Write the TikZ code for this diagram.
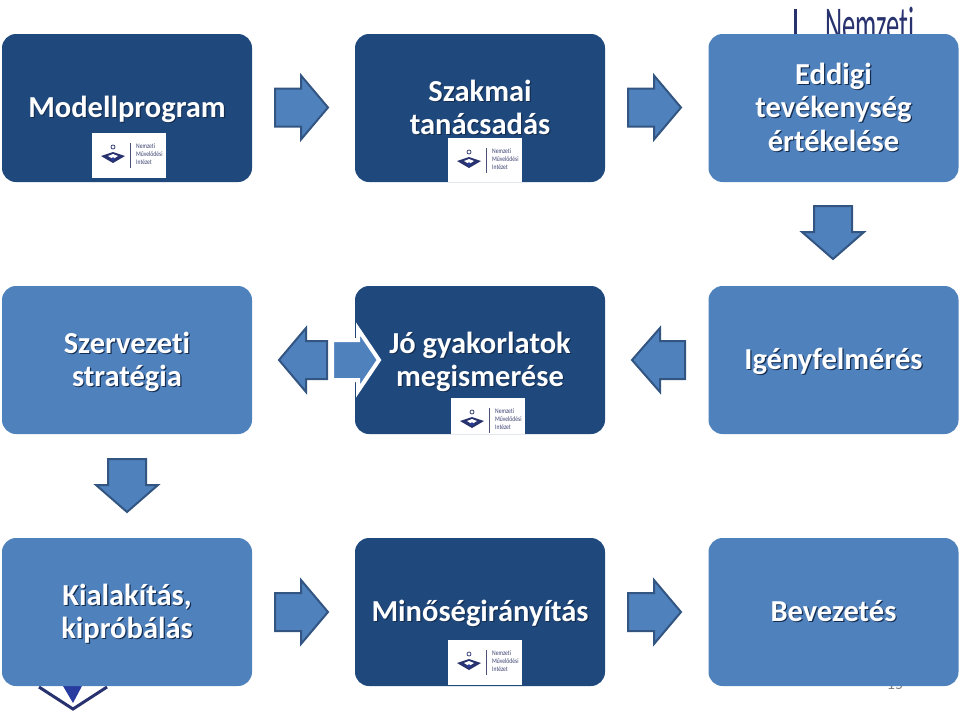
\documentclass[tikz,border=0pt]{standalone}
\usepackage{fontspec}
\setmainfont[Ligatures=NoCommon]{Carlito}
\usepackage{xcolor}
\definecolor{modelblue}{RGB}{31,73,125}
\definecolor{stepblue}{RGB}{79,129,189}
\definecolor{arrowline}{RGB}{50,85,130}
\definecolor{logoblue}{RGB}{40,50,110}
\definecolor{heartblue}{RGB}{40,60,160}
\definecolor{textshade}{RGB}{20,45,80}
\newcommand{\shadetext}[1]{\leavevmode\rule[-7pt]{0pt}{33.5pt}\rlap{\kern1.2pt\raisebox{-1.2pt}{\textcolor{textshade}{#1}}}#1}
\tikzset{
    modelbox/.style = {draw=none, fill=modelblue, rounded corners=14pt, minimum width=250pt, minimum height=148pt, inner sep=0pt, text=white, align=center, font=\bfseries\fontsize{30.5}{33.5}\selectfont},
    stepbox/.style = {modelbox, fill=stepblue},
    logobox/.style = {fill=white, minimum width=74pt, inner sep=0pt, anchor=north},
    logotext/.style = {text=logoblue!80!gray, align=left, inner sep=0pt, font=\fontsize{7}{8.2}\selectfont},
    bluearrow/.style = {draw=arrowline, line width=2pt, fill=stepblue, miter limit=10},
    logo/.pic = {
        \fill[logoblue] (-28,1) -- (-16,-3) -- (-4,1) -- (-16,8) -- cycle;
        \fill[white] (-21,1) -- (-16,-1) -- (-11,1) -- (-16,4) -- cycle;
        \fill[heartblue] (-16,4) circle (1.8);
        \draw[logoblue, line width=0.7pt] (-16,-8) circle (2);
        \draw[logoblue!60!gray, line width=0.6pt] (1,-12) -- (1,13);
    }
}
\begin{document}
\begin{tikzpicture}[x=1pt, y=-1pt]
    \useasboundingbox (0,0) rectangle (960,720);
    % logos behind the boxes
    \node[text=logoblue, font=\fontsize{50}{50}\selectfont, anchor=base west, inner sep=0pt] (topname) at (825,41) {\scalebox{.53}[1]{Nemzeti}};
    \node[fill=logoblue, minimum width=3pt, minimum height=27pt, inner sep=0pt, anchor=north] (topbar) at (795,9) {};
    \draw[logoblue, line width=3pt] (39,687) -- (73,709) -- (107,687);
    \fill[heartblue] (63,686) -- (73,703) -- (82,686) -- cycle;
    \node[text=gray, font=\fontsize{16}{16}\selectfont, inner sep=0pt] (pagenum) at (895,684) {15};

    % boxes
    \node[modelbox] (modell) at (127,108) {\shadetext{Modellprogram}};
    \node[modelbox] (szakmai) at (480,108) {\shadetext{Szakmai}\\\shadetext{tanácsadás}};
    \node[stepbox] (eddigi) at (833.5,108) {\shadetext{Eddigi}\\\shadetext{tevékenység}\\\shadetext{értékelése}};
    \node[stepbox] (szervezeti) at (127,360) {\shadetext{Szervezeti}\\\shadetext{stratégia}};
    \node[modelbox] (jo) at (480,360) {\shadetext{Jó gyakorlatok}\\\shadetext{megismerése}};
    \node[stepbox] (igeny) at (833.5,360) {\shadetext{Igényfelmérés}};
    \node[stepbox] (kialakitas) at (127,612) {\shadetext{Kialakítás,}\\\shadetext{kipróbálás}};
    \node[modelbox] (minoseg) at (480,612) {\shadetext{Minőségirányítás}};
    \node[stepbox] (bevezetes) at (833.5,612) {\shadetext{Bevezetés}};

    % logos on the dark boxes
    \foreach \name/\px/\py/\ph in {a/129/133/45, b/485/138/44, c/488/398/36, d/485/640/45}{
        \node[logobox, minimum height=\ph pt] (logo\name) at (\px,\py) {};
        \pic at (\px,\py+22) {logo};
        \node[logotext, anchor=west] (logotext\name) at (\px+7,\py+22) {\scalebox{.8}[1]{\begin{tabular}{@{}l@{}}Nemzeti\\Művelődési\\Intézet\end{tabular}}};
    }

    % arrows
    \foreach \px/\py in {275/107.5, 628/107.5, 275/612, 628/612}{
        \draw[bluearrow] (\px,\py-19) -- (\px+26,\py-19) -- (\px+26,\py-32) -- (\px+53,\py) -- (\px+26,\py+32) -- (\px+26,\py+19) -- (\px,\py+19) -- cycle;
    }
    \foreach \px/\py in {833/206, 127/459}{
        \draw[bluearrow] (\px-19,\py) -- (\px+19,\py) -- (\px+19,\py+26) -- (\px+31,\py+26) -- (\px,\py+53) -- (\px-31,\py+26) -- (\px-19,\py+26) -- cycle;
    }
    \foreach \px/\tipl/\headl in {685/53/25, 327/48/21}{
        \draw[bluearrow] (\px,341) -- (\px-\headl,341) -- (\px-\headl,328) -- (\px-\tipl,360) -- (\px-\headl,392) -- (\px-\headl,379) -- (\px,379) -- cycle;
    }
    \draw[draw=white, line width=4pt, fill=stepblue, miter limit=10] (332,340) -- (358,340) -- (358,329) -- (379,360) -- (358,391) -- (358,380) -- (332,380) -- cycle;
\end{tikzpicture}
\end{document}
